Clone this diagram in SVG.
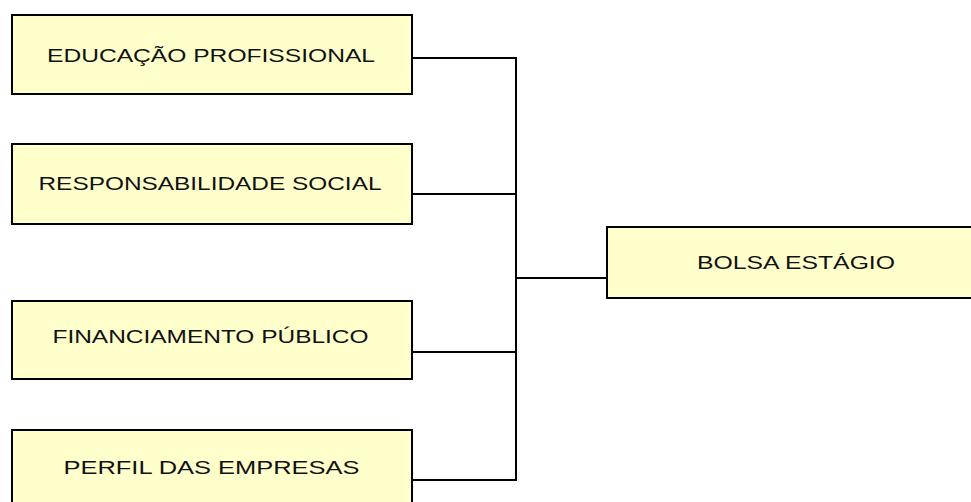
<svg xmlns="http://www.w3.org/2000/svg" width="971" height="502" viewBox="0 0 971 502">
<style>
.box{fill:#FFFFCC;stroke:#000;stroke-width:2}
.lbl{font-family:"Liberation Sans",Arial,sans-serif;font-size:17.5px;fill:#111;}
.ln{fill:none;stroke:#000;stroke-width:2}
</style>
<rect width="971" height="502" fill="#fff"/>
<g id="connectors">
<path class="ln" d="M413 58H516M413 194H516M413 352H516M413 480H516M516 57V481M516 278H607"/>
</g>
<g id="n1">
<rect class="box" x="12" y="15" width="400" height="79"/>
<text class="lbl" x="47" y="62" textLength="328" lengthAdjust="spacingAndGlyphs">EDUCAÇÃO PROFISSIONAL</text>
</g>
<g id="n2">
<rect class="box" x="12" y="144" width="400" height="80"/>
<text class="lbl" x="38.5" y="190" textLength="343" lengthAdjust="spacingAndGlyphs">RESPONSABILIDADE SOCIAL</text>
</g>
<g id="n3">
<rect class="box" x="12" y="301" width="400" height="78"/>
<text class="lbl" x="52.5" y="343" textLength="316" lengthAdjust="spacingAndGlyphs">FINANCIAMENTO PÚBLICO</text>
</g>
<g id="n4">
<rect class="box" x="12" y="430" width="400" height="78"/>
<text class="lbl" x="63.5" y="474" textLength="296" lengthAdjust="spacingAndGlyphs">PERFIL DAS EMPRESAS</text>
</g>
<g id="n5">
<rect class="box" x="607" y="227" width="390" height="71"/>
<text class="lbl" x="697" y="269" textLength="198" lengthAdjust="spacingAndGlyphs">BOLSA ESTÁGIO</text>
</g>
</svg>
